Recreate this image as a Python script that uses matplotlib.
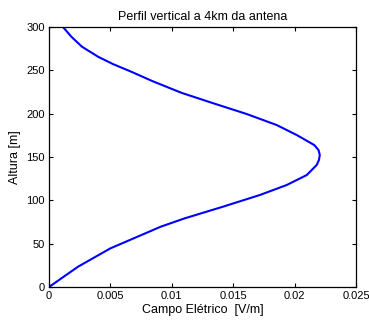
import matplotlib
matplotlib.use("Agg")
import matplotlib.pyplot as plt

# vertical profile of the electric field, 4 km from the antenna
altura = [0, 23.4, 44.6, 58, 69.6, 79, 92.6, 106.2, 117.7, 129.2, 140.8, 146.5,
          152.3, 158, 163.8, 175.4, 186.9, 199.6, 212, 224, 237.7, 248.4, 257.3,
          265.7, 277.3, 288.8, 300]
campo = [0, 0.00236, 0.0050, 0.0072, 0.0091, 0.0110, 0.01415, 0.01718, 0.01936,
         0.02099, 0.0218, 0.02198, 0.02205, 0.02195, 0.0216, 0.02017, 0.01854,
         0.0161, 0.01338, 0.0108, 0.0084, 0.0067, 0.0052, 0.0040, 0.00268,
         0.00182, 0.00114]

xticks = [0, 0.005, 0.01, 0.015, 0.02, 0.025]
xtick_labels = ["0", "0.005", "0.01", "0.015", "0.02", "0.025"]
yticks = [0, 50, 100, 150, 200, 250, 300]

plt.rcParams["font.family"] = ["Liberation Sans", "DejaVu Sans"]

fig = plt.figure(figsize=(3.69, 3.2), dpi=100)
ax = fig.add_axes([0.1328, 0.1031, 0.832, 0.8125])
ax.plot(campo, altura, color=(0, 0, 1), lw=1.5, solid_joinstyle="round")

ax.set_xlim(0, 0.025)
ax.set_ylim(0, 300)
ax.set_xticks(xticks)
ax.set_xticklabels(xtick_labels)
ax.set_yticks(yticks)
ax.tick_params(direction="in", top=True, right=True, length=3, width=0.8,
               labelsize=8, pad=3)
for s in ax.spines.values():
    s.set_linewidth(0.9)

ax.set_title("Perfil vertical a 4km da antena", fontsize=9, pad=5)
ax.set_xlabel("Campo Elétrico  [V/m]", fontsize=9, labelpad=2)
ax.set_ylabel("Altura [m]", fontsize=9, labelpad=4)

fig.savefig("out.png", dpi=100)
